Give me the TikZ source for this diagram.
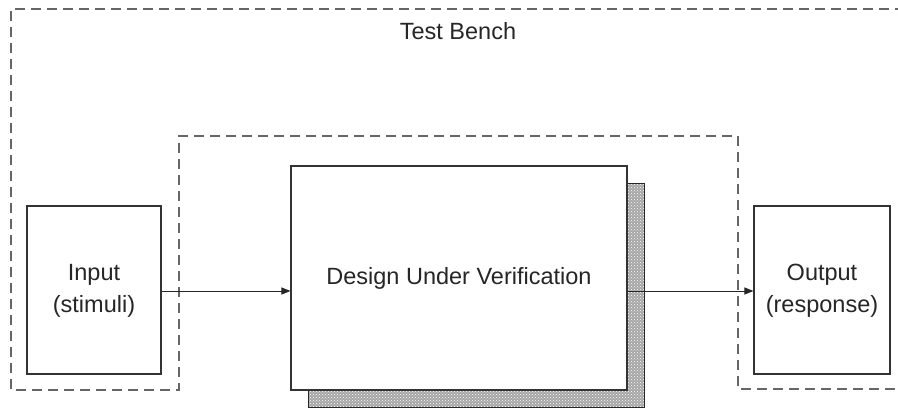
\documentclass[tikz,border=0pt]{standalone}
\usepackage{fontspec}
\setmainfont{Liberation Sans}
\usetikzlibrary{arrows.meta,patterns}
\begin{document}
\begin{tikzpicture}[x=1pt,y=-1pt,
  bench/.style={draw=black!60,line width=1.4pt,dash pattern=on 10pt off 6pt},
  blk/.style={draw=black!80,line width=1.1pt,fill=white,inner sep=0pt},
  lbl/.style={font=\fontsize{23.5}{32}\selectfont,text=black!85,align=center},
  conn/.style={draw=black!85,line width=0.9pt,-{Triangle[length=9pt,width=7pt]}}]
\useasboundingbox (0,0) rectangle (898,411);
% test bench outline
\draw[bench] (905,9) -- (11,9) -- (11,390) -- (179,390) -- (179,136) -- (738,136) -- (738,389) -- (905,389);
\node[lbl] (tb) at (458,31) {Test Bench};
% shadow
\fill[black!35] (308,183) rectangle (644,407);
\draw[draw=black!85,line width=0.8pt,pattern=crosshatch dots,pattern color=white] (308,183) rectangle (644,407);
% blocks
\node[blk,minimum width=134pt,minimum height=168pt] (in) at (94,290) {};
\node[lbl] at (94,291) {Input\\(stimuli)};
\node[blk,minimum width=336pt,minimum height=224pt] (duv) at (459,278) {};
\node[lbl] at (459,278) {Design Under Verification};
\node[blk,minimum width=136pt,minimum height=168pt] (out) at (822,290) {};
\node[lbl] at (822,291) {Output\\(response)};
% connectors
\draw[conn] (in.east |- 0,291) -- (duv.west |- 0,291);
\draw[conn] (duv.east |- 0,291) -- (out.west |- 0,291);
\end{tikzpicture}
\end{document}
